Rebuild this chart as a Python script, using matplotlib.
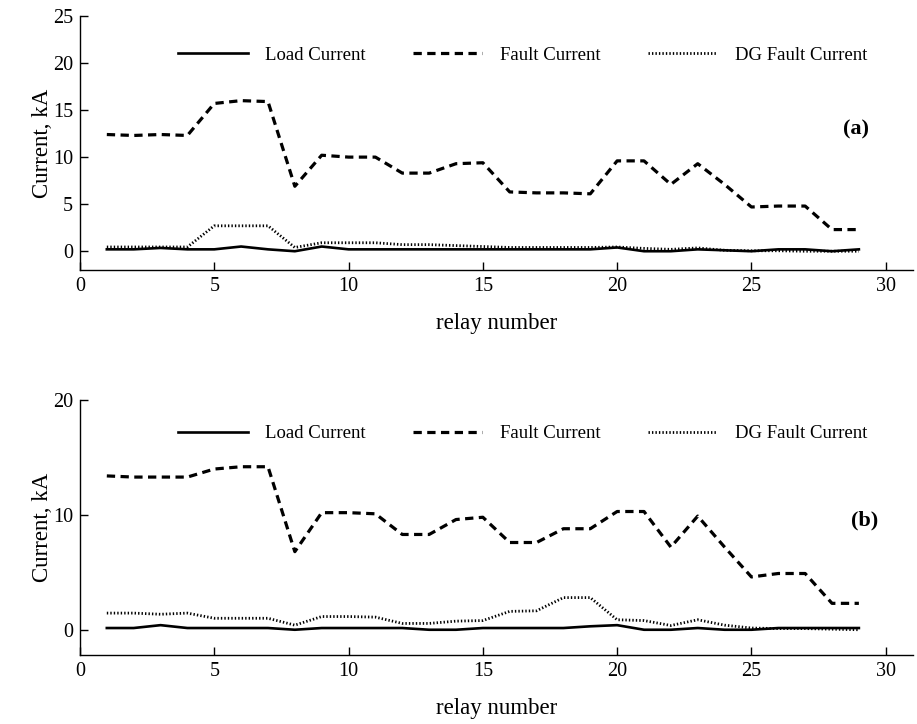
import matplotlib
matplotlib.use("Agg")
import matplotlib.pyplot as plt

plt.rcParams["font.family"] = ["Liberation Serif", "DejaVu Serif"]

relay = list(range(1, 30))

# (a) currents in kA
load_a = [0.2, 0.2, 0.35, 0.2, 0.2, 0.5, 0.2, 0.0, 0.5, 0.2, 0.2, 0.2, 0.2, 0.2, 0.2,
          0.2, 0.2, 0.2, 0.2, 0.4, 0.0, 0.0, 0.2, 0.1, 0.0, 0.2, 0.2, 0.0, 0.2]
fault_a = [12.4, 12.3, 12.4, 12.3, 15.7, 16.0, 15.9, 6.9, 10.2, 10.0, 10.0, 8.3, 8.3, 9.3, 9.4,
           6.3, 6.2, 6.2, 6.1, 9.6, 9.6, 7.1, 9.3, 7.1, 4.7, 4.8, 4.8, 2.3, 2.3]
dg_a = [0.45, 0.45, 0.45, 0.45, 2.7, 2.7, 2.7, 0.4, 0.9, 0.9, 0.9, 0.7, 0.7, 0.6, 0.5,
        0.4, 0.4, 0.4, 0.4, 0.45, 0.3, 0.2, 0.35, 0.1, 0.05, 0.05, 0.0, 0.0, 0.0]

# (b) currents in kA
load_b = [0.15, 0.15, 0.4, 0.15, 0.15, 0.15, 0.15, 0.0, 0.15, 0.15, 0.15, 0.15, 0.0, 0.0, 0.15,
          0.15, 0.15, 0.15, 0.3, 0.4, 0.0, 0.0, 0.15, 0.0, 0.0, 0.15, 0.15, 0.15, 0.15]
fault_b = [13.4, 13.3, 13.3, 13.3, 14.0, 14.2, 14.2, 6.8, 10.2, 10.2, 10.1, 8.3, 8.3, 9.6, 9.8,
           7.6, 7.6, 8.8, 8.8, 10.3, 10.3, 7.2, 9.9, 7.2, 4.6, 4.9, 4.9, 2.3, 2.3]
dg_b = [1.45, 1.45, 1.35, 1.45, 1.0, 1.0, 1.0, 0.4, 1.15, 1.15, 1.1, 0.55, 0.55, 0.75, 0.8,
        1.6, 1.65, 2.8, 2.8, 0.87, 0.8, 0.37, 0.87, 0.4, 0.15, 0.1, 0.1, 0.05, 0.0]

series_names = ["Load Current", "Fault Current", "DG Fault Current"]
x_ticks = [0, 5, 10, 15, 20, 25, 30]

fig = plt.figure(figsize=(9.17, 7.24), dpi=100)
ax_a = fig.add_axes([0.0872, 0.627, 0.908, 0.351])
ax_b = fig.add_axes([0.0872, 0.0953, 0.908, 0.352])

panels = [
    (ax_a, load_a, fault_a, dg_a, (-2, 25), [0, 5, 10, 15, 20, 25], "(a)", (28.9, 12.9), 0.845),
    (ax_b, load_b, fault_b, dg_b, (-2.2, 20), [0, 10, 20], "(b)", (29.2, 9.5), 0.868),
]

for ax, load, fault, dg, ylim, yticks, tag, tag_xy, leg_y in panels:
    ax.plot(relay, load, color="black", lw=1.9, solid_joinstyle="round",
            label=series_names[0])
    ax.plot(relay, fault, color="black", lw=2.3, linestyle=(0, (2.6, 1.7)),
            dash_joinstyle="round", label=series_names[1])
    ax.plot(relay, dg, color="black", lw=2.0, linestyle=(0, (0.5, 0.75)),
            label=series_names[2])

    ax.set_xlim(0, 31)
    ax.set_ylim(*ylim)
    ax.set_xticks(x_ticks)
    ax.set_yticks(yticks)
    for side in ("top", "right"):
        ax.spines[side].set_visible(False)
    for side in ("left", "bottom"):
        ax.spines[side].set_linewidth(1.0)
    ax.tick_params(direction="in", length=6, width=1.0, labelsize=14.5, pad=5)
    ax.set_xlabel("relay number", fontsize=16.5, labelpad=12)
    ax.set_ylabel("Current, kA", fontsize=16.5, labelpad=0)
    ax.text(tag_xy[0], tag_xy[1], tag, fontsize=16, fontweight="bold",
            ha="center", va="center")

    ax.legend(loc="center left", bbox_to_anchor=(0.118, leg_y), ncol=3,
              frameon=False, fontsize=13.5, handlelength=3.7, handletextpad=0.95,
              columnspacing=2.5, borderpad=0, borderaxespad=0)

fig.savefig("out.png", dpi=100)
